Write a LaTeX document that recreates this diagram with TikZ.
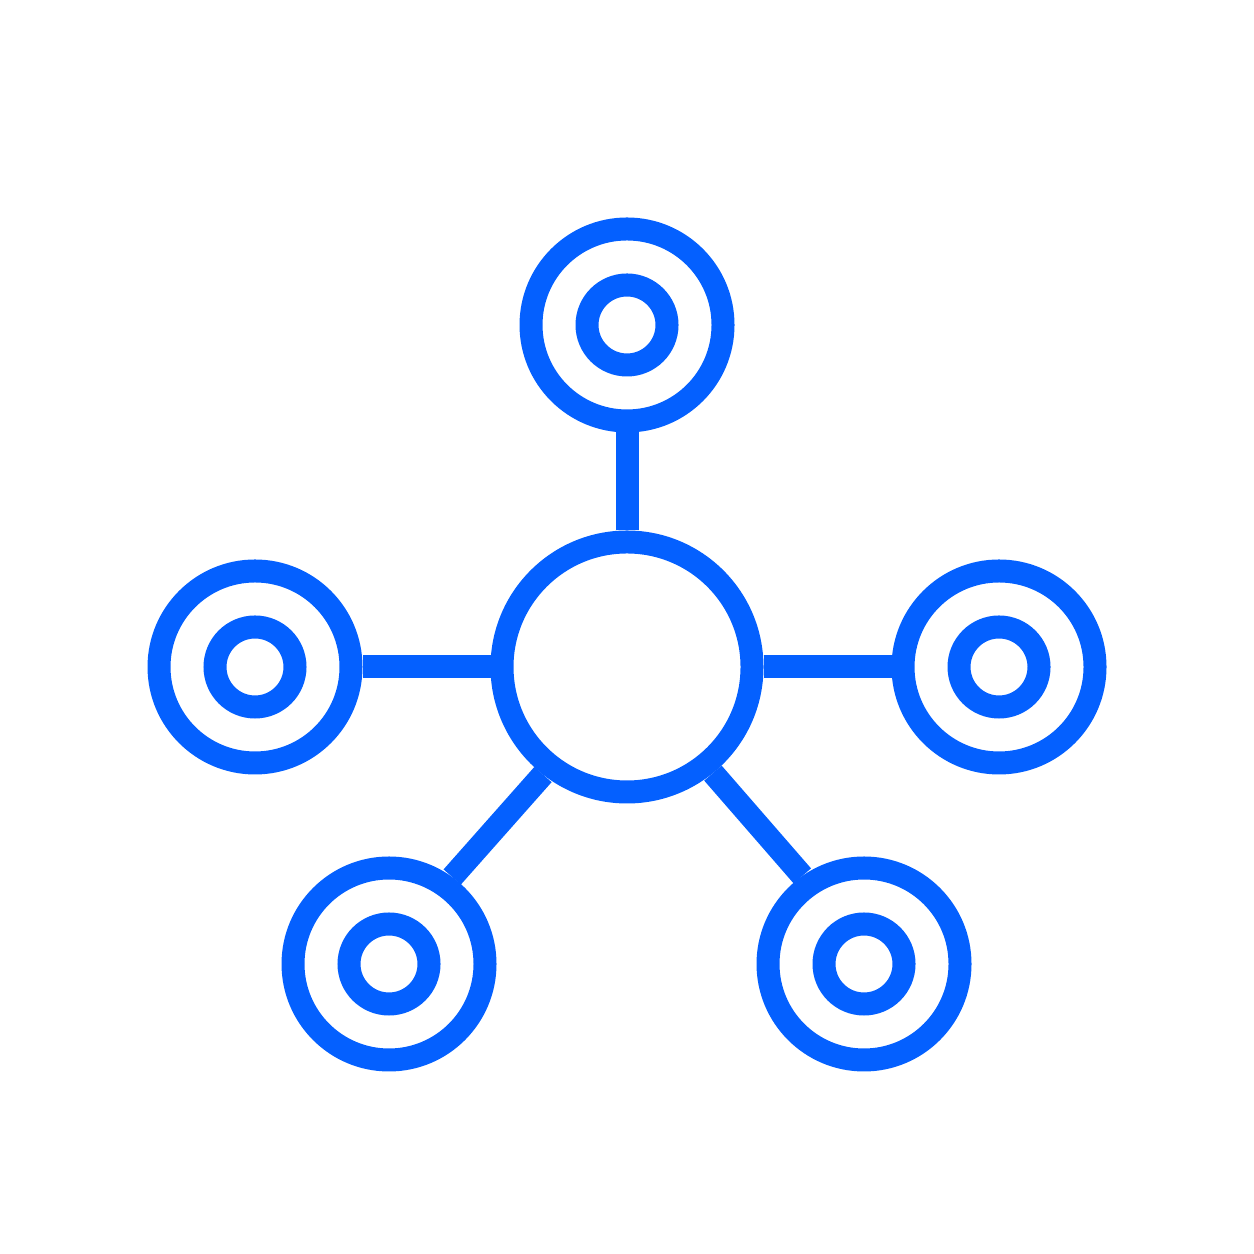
\documentclass[tikz,border=0pt]{standalone}
\definecolor{hubblue}{RGB}{4,96,255}
\begin{document}
\begin{tikzpicture}[
        ring/.style={circle, draw=hubblue, line width=0.23cm, inner sep=0pt, minimum size=#1},
        link/.style={draw=hubblue, line width=0.23cm}
    ]
        \useasboundingbox (0, 0) rectangle (12.54, 12.54);
        \node[ring=2.5cm] (hub) at (6.27, 5.87) {};
        \foreach \name/\x/\y in {top/6.27/9.29, left/2.55/5.87, right/9.99/5.87, botleft/3.89/2.90, botright/8.64/2.90} {
            \node[ring=1.92cm] (\name) at (\x, \y) {};
            \node[ring=0.8cm] (\name-dot) at (\x, \y) {};
        }
        \draw[link] (hub) -- (top);
        \draw[link] (hub) -- (left);
        \draw[link] (hub) -- (right);
        \draw[link] (hub.-128.5) -- (botleft.54.3);
        \draw[link] (hub.-51.5) -- (botright.125.7);
    \end{tikzpicture}
\end{document}
